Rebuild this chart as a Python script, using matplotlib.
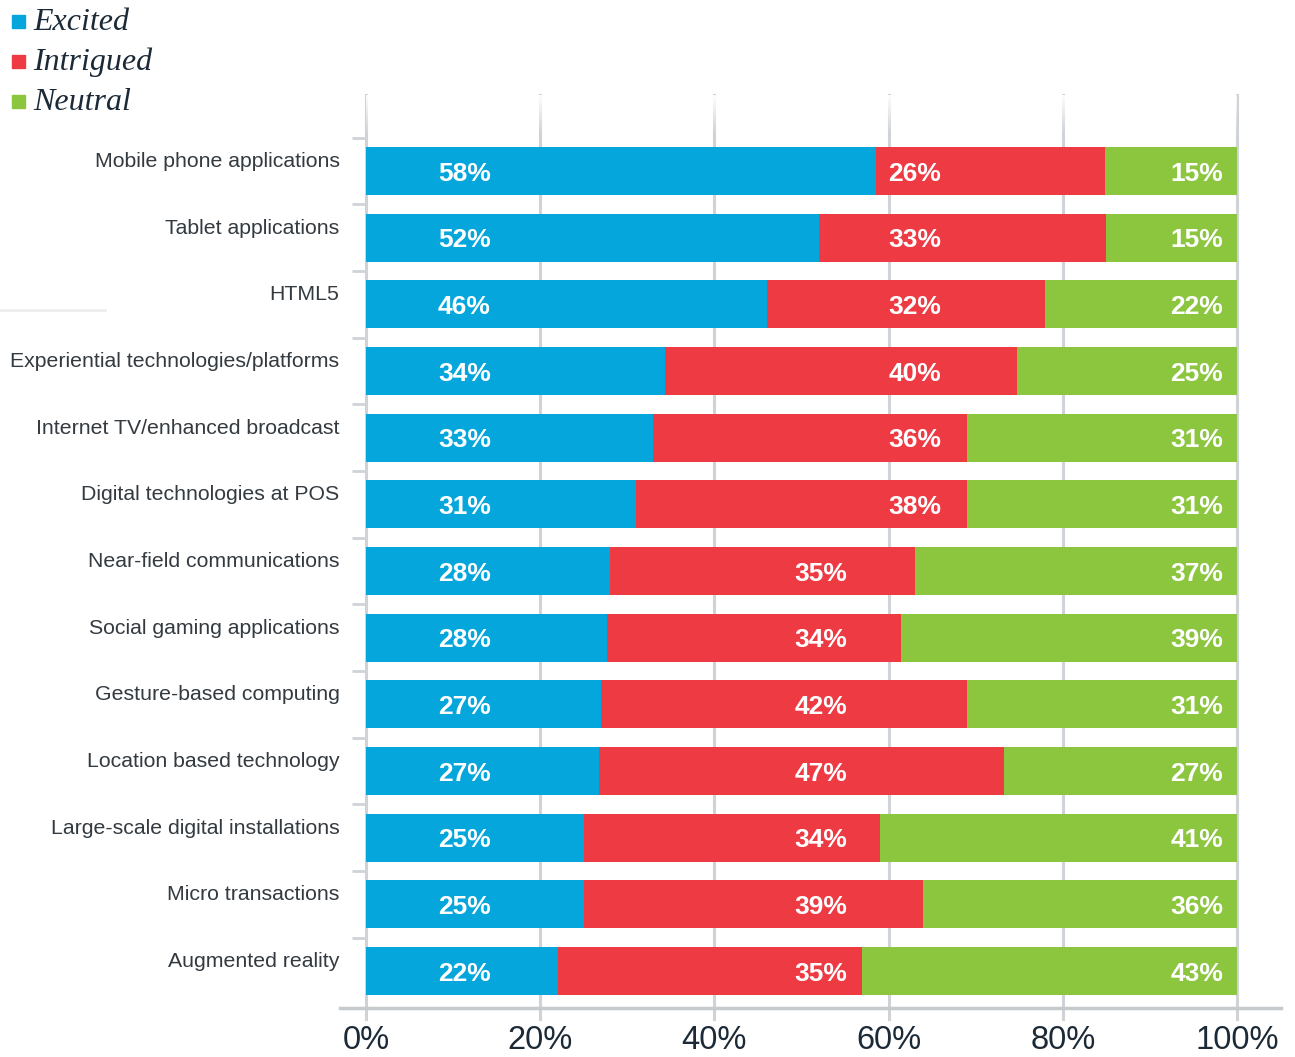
#!/usr/bin/env python3

import numpy as np
import matplotlib
matplotlib.use('Agg')
import matplotlib.pyplot as plt
from matplotlib.lines import Line2D

# data
categories = ["Mobile phone applications", "Tablet applications", "HTML5",
              "Experiential technologies/platforms", "Internet TV/enhanced broadcast",
              "Digital technologies at POS", "Near-field communications",
              "Social gaming applications", "Gesture-based computing",
              "Location based technology", "Large-scale digital installations",
              "Micro transactions", "Augmented reality"]
excited   = [58, 52, 46, 34, 33, 31, 28, 28, 27, 27, 25, 25, 22]
intrigued = [26, 33, 32, 40, 36, 38, 35, 34, 42, 47, 34, 39, 35]
neutral   = [15, 15, 22, 25, 31, 31, 37, 39, 31, 27, 41, 36, 43]
series_names = ["Excited", "Intrigued", "Neutral"]
xticks = [0, 20, 40, 60, 80, 100]

BLUE = '#04a6db'
RED = '#ee3a43'
GREEN = '#8cc63f'
GRID = '#cfd3d7'
TEXT = '#333a40'
NAVY = '#1c2a38'

#------------------------------------------------------------
fig = plt.figure(figsize=(12.95, 10.57), dpi=100)
ax = fig.add_axes([366 / 1295, 1 - 1008 / 1057, 871 / 1295, 913 / 1057])

exc = np.array(excited, dtype=float)
intr = np.array(intrigued, dtype=float)
neu = np.array(neutral, dtype=float)
tot = exc + intr + neu
# bars are drawn to fill the full width
e_w = exc / tot * 100
i_w = intr / tot * 100
n_w = neu / tot * 100

y = np.arange(len(categories))
h = 0.72
ax.barh(y, e_w, height=h, color=BLUE, zorder=3)
ax.barh(y, i_w, left=e_w, height=h, color=RED, zorder=3)
ax.barh(y, n_w, left=e_w + i_w, height=h, color=GREEN, zorder=3)

# value labels
red_x = np.where(y < 6, 63.0, 52.2)
for i in y:
    ax.text(11.3, i + 0.04, "%d%%" % excited[i], color='white', fontsize=19, fontweight='bold',
            ha='center', va='center', zorder=4, family='Liberation Sans')
    ax.text(red_x[i], i + 0.04, "%d%%" % intrigued[i], color='white', fontsize=19, fontweight='bold',
            ha='center', va='center', zorder=4, family='Liberation Sans')
    ax.text(98.4, i + 0.04, "%d%%" % neutral[i], color='white', fontsize=19, fontweight='bold',
            ha='right', va='center', zorder=4, family='Liberation Sans')

# gridlines
for xv in xticks:
    ax.axvline(xv, ymin=-0.012, ymax=1, color=GRID, linewidth=2.2, zorder=1, clip_on=False)
ax.axhline(len(categories) - 1 + 0.555, xmin=-0.03, xmax=1.05, color='#c6cacd',
           linewidth=2.5, zorder=2, clip_on=False)

# fade the top of the gridlines
rgba = np.ones((100, 1, 4))
rgba[:, 0, 3] = np.linspace(1, 0, 100)
ax.imshow(rgba, extent=(-1, 101, -0.55, -1.14), aspect='auto', zorder=2, interpolation='bilinear')
ax.set_xlim(0, 100)
ax.set_ylim(len(categories) - 1 + 0.555, -1.14)

for s in ax.spines.values():
    s.set_visible(False)

ax.set_xticks(xticks)
ax.set_xticklabels(["%d%%" % v for v in xticks], fontsize=23.5, color=NAVY, family='Liberation Sans')
ax.tick_params(axis='x', length=0, pad=12)

ax.set_yticks(y)
ax.set_yticklabels(categories, fontsize=15.3, color=TEXT, family='Liberation Sans', va='bottom')
ax.set_yticks(np.arange(len(categories)) - 0.5, minor=True)
ax.tick_params(axis='y', which='major', length=0, pad=19)
ax.tick_params(axis='y', which='minor', length=10, width=2, color=GRID)

# legend
colors = [BLUE, RED, GREEN]
for k, name in enumerate(series_names):
    yy = 1 - (22 + 40 * k) / 1057
    fig.patches.append(plt.Rectangle((12 / 1295, yy - 6 / 1057), 13 / 1295, 13 / 1057,
                                     transform=fig.transFigure, color=colors[k]))
    fig.text(33 / 1295, yy, name, fontsize=23, style='italic', color=NAVY,
             family='Liberation Serif', va='center', ha='left')

fig.add_artist(Line2D([0, 105 / 1295], [1 - 310 / 1057] * 2, color='#eeeeee', linewidth=2))

plt.savefig("out.png", dpi=100)
